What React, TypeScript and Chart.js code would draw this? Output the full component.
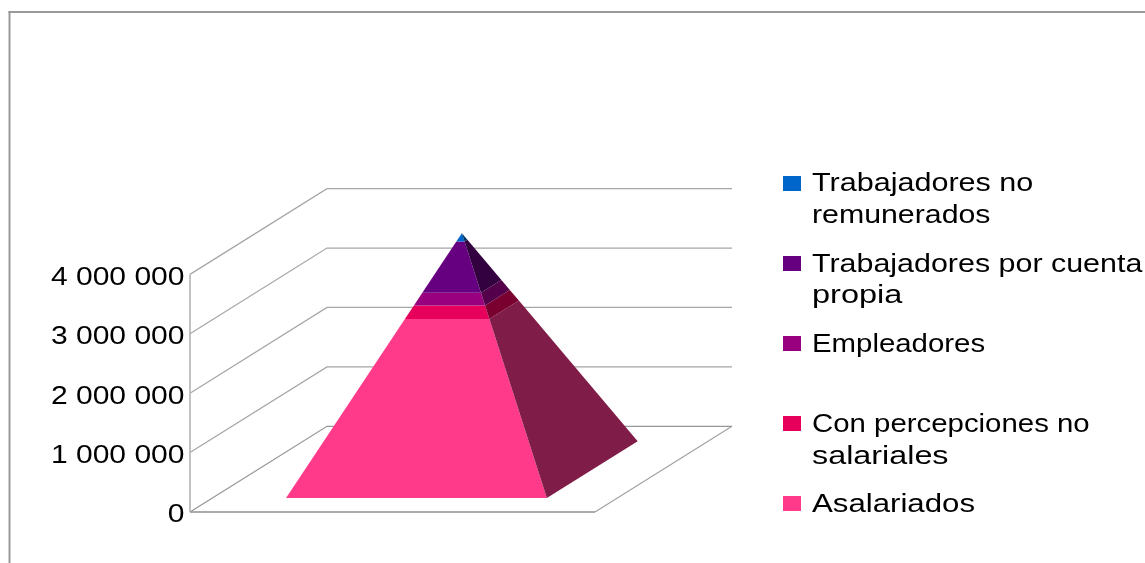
import React, { useEffect, useRef } from "react";
import { Chart, registerables } from "chart.js";

Chart.register(...registerables);

// Bottom-to-top order of the stacked pyramid
const categories = ["Asalariados", "Con percepciones no salariales", "Empleadores", "Trabajadores por cuenta propia", "Trabajadores no remunerados"];
const values = [2690000, 205000, 190000, 770000, 125000];
const frontColors = ["#ff3a8a", "#e6005c", "#99007f", "#660080", "#0066cc"];
const sideColors = ["#801c48", "#7a0030", "#55004a", "#330040", "#003366"];
const tickValues = [0, 1000000, 2000000, 3000000, 4000000];
// Legend rows, top to bottom
const legendLines = [
  ["Trabajadores no", "remunerados"],
  ["Trabajadores por cuenta", "propia"],
  ["Empleadores"],
  ["Con percepciones no", "salariales"],
  ["Asalariados"],
];
const legendColors = ["#0066cc", "#660080", "#99007f", "#e6005c", "#ff3a8a"];
const legendSwatchTops = [176, 256, 336, 416, 496];
const legendBaselines = [[191, 223], [271.5, 303], [351.5], [432, 464], [511.5]];
const legendStretch = [[1.175, 1.165], [1.17, 1.25], [1.13], [1.13, 1.243], [1.2]];

const FONT = '26px "Liberation Sans"';
const TICK_STRETCH = 1.155;
const PX_PER_UNIT = 59.6 / 1000000;
const PLOT_TOP = 20;
const PLOT_BOTTOM = 512;
const Y_MAX = (PLOT_BOTTOM - PLOT_TOP) / PX_PER_UNIT;
const X_MAX = 955 / 405;
const DEPTH_X = 137 / 405;
const DEPTH_Y = 86 / PX_PER_UNIT;

const project = (u: number, d: number, v: number) => ({ x: u + d * DEPTH_X, y: v + d * DEPTH_Y });

// Pyramid footprint on the floor
const U_C = 0.504;
const U_H = 0.322;
const D_FRONT = 0.163;
const D_BACK = 0.826;
const D_C = (D_FRONT + D_BACK) / 2;
const total = values.reduce((a, b) => a + b, 0);

const corner = (cu: number, cd: number, v: number) => {
  const h = v / total;
  return project(cu + (U_C - cu) * h, cd + (D_C - cd) * h, v);
};

function buildDatasets() {
  const ds: any[] = [];
  const line = (data: any[], color: string, width: number) =>
    ds.push({ type: "scatter", data, showLine: true, pointRadius: 0, borderColor: color, borderWidth: width, fill: false, clip: false });
  // walls and floor
  tickValues.forEach((v) => {
    const pts = [project(0, 0, v), project(0, 1, v), project(1, 1, v)];
    if (v === 0) {
      line([project(1, 1, 0), project(1, 0, 0)], "#a0a0a0", 1.1);
      line([project(1, 0, 0), project(0, 0, 0)], "#8f8f8f", 1.7);
    }
    line(pts, v === 0 ? "#969696" : "#a6a6a6", 1.2);
  });
  line([project(0, 0, 0), project(0, 0, tickValues[tickValues.length - 1])], "#b3b3b3", 1.6);
  // pyramid bands
  let base = 0;
  values.forEach((val, i) => {
    const top = base + val;
    const face = (a: [number, number], b: [number, number], color: string) =>
      ds.push({
        type: "scatter",
        label: categories[i],
        data: [corner(a[0], a[1], base), corner(b[0], b[1], base), corner(b[0], b[1], top), corner(a[0], a[1], top)],
        showLine: true,
        pointRadius: 0,
        borderWidth: 0,
        borderColor: color,
        backgroundColor: color,
        fill: "shape",
        clip: false,
      });
    face([U_C - U_H, D_FRONT], [U_C + U_H, D_FRONT], frontColors[i]);
    face([U_C + U_H, D_FRONT], [U_C + U_H, D_BACK], sideColors[i]);
    base = top;
  });
  ds.forEach((d, i) => (d.order = 1000 - i));
  return ds;
}

const frameAndLegend = {
  id: "frameAndLegend",
  beforeDraw(chart: any) {
    const { ctx } = chart;
    ctx.save();
    ctx.fillStyle = "#ffffff";
    ctx.fillRect(0, 0, chart.width, chart.height);
    ctx.fillStyle = "#999999";
    ctx.fillRect(8.5, 11, chart.width, 2);
    ctx.fillRect(8.5, 11, 2, chart.height);
    ctx.restore();
    // stretch the axis's own labels horizontally about their right edge
    const y = chart.scales.y;
    if (!y.__stretched) {
      y.__stretched = true;
      const orig = y.drawLabels.bind(y);
      y.drawLabels = (area: any) => {
        const pivot = y.right - 6;
        ctx.save();
        ctx.translate(pivot + 0.5, 3.2);
        ctx.scale(TICK_STRETCH, 1);
        ctx.translate(-pivot, 0);
        orig(area);
        ctx.restore();
      };
    }
  },
  afterDraw(chart: any) {
    const { ctx } = chart;
    ctx.save();
    ctx.font = FONT;
    ctx.textAlign = "left";
    ctx.textBaseline = "alphabetic";
    legendLines.forEach((lines, i) => {
      ctx.fillStyle = legendColors[i];
      ctx.fillRect(783, legendSwatchTops[i], 18, 15);
      ctx.fillStyle = "#000000";
      lines.forEach((text, j) => {
        ctx.save();
        ctx.translate(812, legendBaselines[i][j]);
        ctx.scale(legendStretch[i][j], 1);
        ctx.fillText(text, 0, 0);
        ctx.restore();
      });
    });
    ctx.restore();
  },
};

export default function App() {
  const ref = useRef<HTMLCanvasElement>(null);
  useEffect(() => {
    document.body.style.margin = "0";
    const chart = new Chart(ref.current!, {
      type: "scatter",
      data: { datasets: buildDatasets() },
      plugins: [frameAndLegend],
      options: {
        animation: false,
        responsive: false,
        layout: { padding: { top: PLOT_TOP, bottom: 563 - PLOT_BOTTOM, left: 0, right: 0 } },
        plugins: { legend: { display: false }, tooltip: { enabled: false }, title: { display: false } },
        scales: {
          x: { type: "linear", display: false, min: 0, max: X_MAX },
          y: {
            type: "linear",
            min: 0,
            max: Y_MAX,
            afterFit: (s: any) => { s.width = 190; },
            afterBuildTicks: (s: any) => { s.ticks = tickValues.map((value) => ({ value })); },
            grid: { display: false, drawTicks: false },
            border: { display: false },
            ticks: {
              padding: 6,
              color: "#000000",
              font: { family: "Liberation Sans", size: 26 },
              autoSkip: false,
              callback: (v: any) => String(v).replace(/\B(?=(\d{3})+$)/g, " "),
            },
          },
        },
      } as any,
    });
    return () => chart.destroy();
  }, []);
  return <canvas ref={ref} width={1145} height={563} style={{ display: "block" }} />;
}
